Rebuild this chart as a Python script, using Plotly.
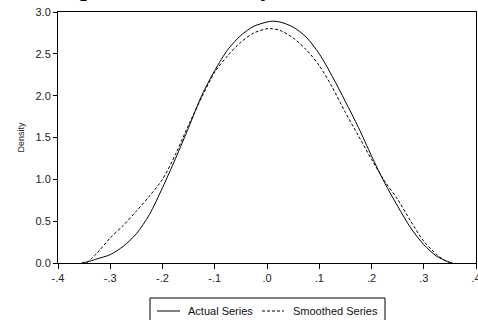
import plotly.graph_objects as go

# Actual series (solid)
actual_x = [-0.355, -0.34, -0.325, -0.30, -0.275, -0.25, -0.225, -0.20, -0.175, -0.15, -0.125,
            -0.10, -0.075, -0.05, -0.025, 0.0, 0.01, 0.025, 0.05, 0.075, 0.10, 0.125, 0.15,
            0.175, 0.20, 0.225, 0.25, 0.275, 0.30, 0.325, 0.345, 0.355]
actual_y = [0.0, 0.02, 0.05, 0.10, 0.20, 0.35, 0.58, 0.90, 1.25, 1.62, 2.00,
            2.30, 2.55, 2.72, 2.83, 2.88, 2.89, 2.88, 2.82, 2.70, 2.50, 2.23, 1.93,
            1.62, 1.28, 0.96, 0.68, 0.42, 0.22, 0.08, 0.02, 0.0]

# Smoothed series (dashed)
smooth_x = [-0.345, -0.325, -0.30, -0.275, -0.25, -0.225, -0.20, -0.175, -0.15, -0.125,
            -0.10, -0.075, -0.05, -0.025, 0.0, 0.01, 0.025, 0.05, 0.075, 0.10, 0.125, 0.15,
            0.175, 0.20, 0.225, 0.25, 0.275, 0.30, 0.325, 0.34, 0.35]
smooth_y = [0.0, 0.12, 0.30, 0.45, 0.62, 0.80, 1.00, 1.30, 1.65, 1.98,
            2.28, 2.48, 2.64, 2.75, 2.80, 2.80, 2.78, 2.69, 2.55, 2.36, 2.10, 1.80,
            1.52, 1.24, 0.98, 0.76, 0.50, 0.26, 0.10, 0.03, 0.0]

x_tickvals = [-0.4, -0.3, -0.2, -0.1, 0.0, 0.1, 0.2, 0.3, 0.4]
x_ticktext = ["-.4", "-.3", "-.2", "-.1", ".0", ".1", ".2", ".3", ".4"]
y_tickvals = [0.0, 0.5, 1.0, 1.5, 2.0, 2.5, 3.0]

series_names = ["Actual Series", "Smoothed Series"]
title_text = "Empirical Probability"

W, H = 478, 320
ML, MR, MT, MB = 58, 2, 12, 57
PW, PH = W - ML - MR, H - MT - MB


def px(x):
    return (x - ML) / PW


def py(y):
    return (H - MB - y) / PH


fig = go.Figure()
fig.add_trace(go.Scatter(x=actual_x, y=actual_y, mode="lines", name=series_names[0],
                         showlegend=False,
                         line=dict(color="black", width=1, shape="spline", smoothing=0.8)))
fig.add_trace(go.Scatter(x=smooth_x, y=smooth_y, mode="lines", name=series_names[1],
                         showlegend=False,
                         line=dict(color="black", width=1, dash="3px,2px", shape="spline", smoothing=0.8)))

# manual legend (box partly below the page edge, as in the reference)
shapes = [
    dict(type="rect", xref="paper", yref="paper", x0=px(150), x1=px(385), y0=py(326), y1=py(298),
         line=dict(color="black", width=1), fillcolor="white"),
    dict(type="line", xref="paper", yref="paper", x0=px(157), x1=px(180), y0=py(311), y1=py(311),
         line=dict(color="black", width=1)),
    dict(type="line", xref="paper", yref="paper", x0=px(262), x1=px(284), y0=py(311), y1=py(311),
         line=dict(color="black", width=1, dash="3px,2px")),
]
annotations = [
    dict(text="<b>" + title_text + "</b>", xref="paper", yref="paper",
         x=-0.0407, y=1.099, xanchor="left", yanchor="middle", showarrow=False,
         font=dict(family="Liberation Serif, Times New Roman, serif", size=24.6, color="black")),
    dict(text=series_names[0], xref="paper", yref="paper", x=px(186), y=py(311),
         xanchor="left", yanchor="middle", showarrow=False, font=dict(size=11, color="#111")),
    dict(text=series_names[1], xref="paper", yref="paper", x=px(291), y=py(311),
         xanchor="left", yanchor="middle", showarrow=False, font=dict(size=11, color="#111")),
]

fig.update_layout(
    width=W, height=H,
    margin=dict(l=ML, r=MR, t=MT, b=MB, autoexpand=False),
    paper_bgcolor="white", plot_bgcolor="white",
    font=dict(family="Liberation Sans, Arial, sans-serif", size=11, color="#222"),
    showlegend=False,
    shapes=shapes,
    annotations=annotations,
)
fig.update_xaxes(range=[-0.4, 0.4000001], tickvals=x_tickvals, ticktext=x_ticktext,
                 showline=True, linecolor="black", linewidth=1, mirror=True,
                 ticks="outside", ticklen=5, tickcolor="black", tickwidth=1,
                 ticklabeloverflow="allow",
                 showgrid=False, zeroline=False, tickfont=dict(size=11))
fig.update_yaxes(range=[0, 3], tickvals=y_tickvals, tickformat=".1f",
                 showline=True, linecolor="black", linewidth=1, mirror=True,
                 ticks="outside", ticklen=4, tickcolor="black", tickwidth=1,
                 showgrid=False, zeroline=False, tickfont=dict(size=11),
                 title=dict(text="Density", font=dict(size=9), standoff=9))

fig.write_html("out.html")
